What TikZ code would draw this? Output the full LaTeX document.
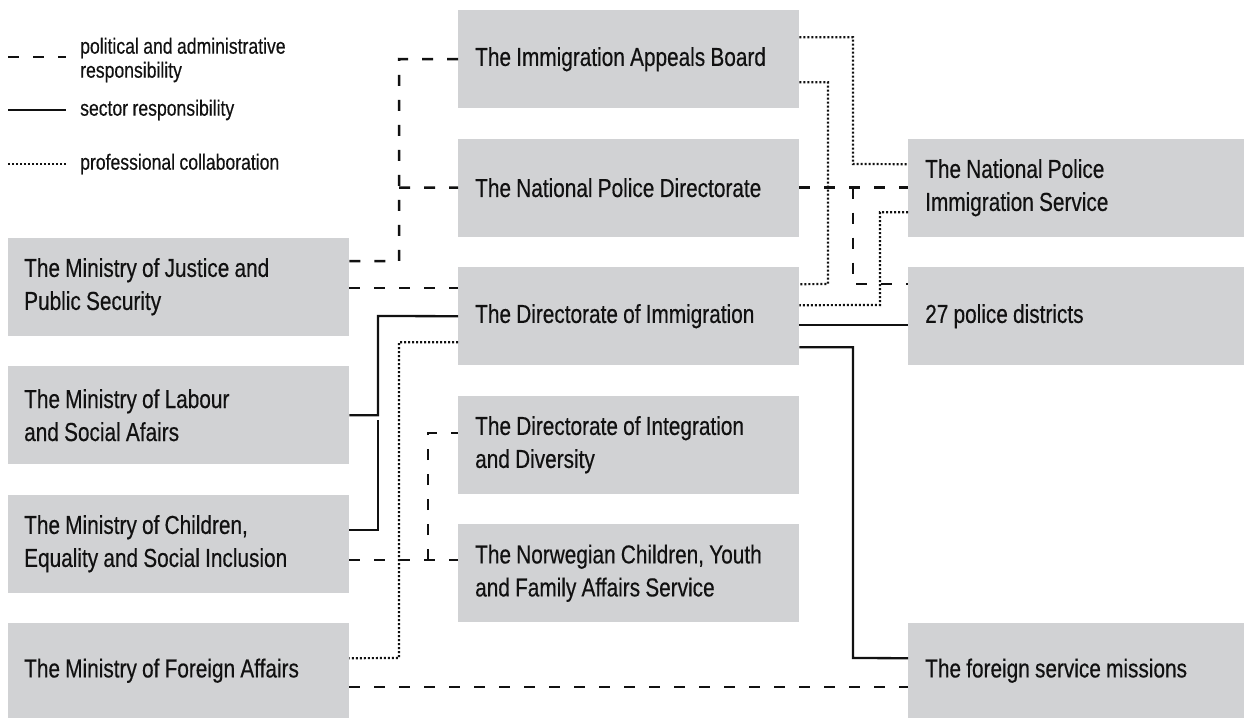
\documentclass[tikz,border=0pt]{standalone}
\usepackage{fontspec}
\setmainfont[FakeStretch=0.8, FakeBold=0.4, WordSpace=0.9]{Liberation Sans}
\usetikzlibrary{calc}
\definecolor{boxgray}{HTML}{D1D2D4}
\definecolor{ink}{HTML}{111111}
\begin{document}
\begin{tikzpicture}[x=1pt,y=-1pt,
  box/.style={fill=boxgray, draw=none, anchor=north west, align=flush left, inner xsep=17pt, inner ysep=0pt, minimum height=98pt, font=\fontsize{26}{33}\selectfont, text=ink},
  lbox/.style={box, text width=309pt, inner xsep=16pt},
  mbox/.style={box, text width=307pt},
  rbox/.style={box, text width=302pt},
  pol/.style={draw=ink, line width=2.5pt, dash pattern=on 11pt off 14pt},
  sec/.style={draw=ink, line width=2.3pt},
  col/.style={draw=ink, line width=2.2pt, dash pattern=on 2pt off 2pt},
  legtext/.style={anchor=west, align=flush left, font=\fontsize{22}{24}\selectfont, inner sep=0pt, text=ink}]
\useasboundingbox (0,0) rectangle (1244,718);

% legend
\coordinate (la1) at (8,57);  \coordinate (lb1) at (66,57);
\coordinate (la2) at (8,110); \coordinate (lb2) at (66,110);
\coordinate (la3) at (8,164); \coordinate (lb3) at (66,164);
\draw[pol] (la1) -- (lb1);
\draw[sec] (la2) -- (lb2);
\draw[col] (la3) -- (lb3);
\node[legtext] (lt1) at (80,60) {political and administrative\\responsibility};
\node[legtext] (lt2) at (80,110) {sector responsibility};
\node[legtext] (lt3) at (80,164) {professional collaboration};

% left column
\node[lbox] (just) at (8,237.5) {The Ministry of Justice and\\Public Security};
\node[lbox] (lab)  at (8,366)   {The Ministry of Labour\\and Social Afairs};
\node[lbox] (chil) at (8,494.5) {The Ministry of Children,\\Equality and Social Inclusion};
\node[lbox, minimum height=95pt] (fmin) at (8,623) {The Ministry of Foreign Affairs};

% middle column
\node[mbox] (app) at (458,10)    {The Immigration Appeals Board};
\node[mbox] (pd)  at (458,138.5) {The National Police Directorate};
\node[mbox] (imm) at (458,267)   {The Directorate of Immigration};
\node[mbox] (int) at (458,395.5) {The Directorate of Integration\\and Diversity};
\node[mbox] (nor) at (458,524)   {The Norwegian Children, Youth\\and Family Affairs Service};

% right column
\node[rbox] (npis) at (908,138.5) {The National Police\\Immigration Service};
\node[rbox] (dist) at (908,267)   {27 police districts};
\node[rbox, minimum height=95pt] (miss) at (908,623) {The foreign service missions};

% left-side connectors
\draw[pol] ($(just.east)+(0,-25.5)$) -| (399,59) -- (app.west);
\draw[pol] (399,187.5) -- (pd.west);
\draw[pol] ($(just.east)+(0,1.5)$) -- ($(imm.west)+(0,-28)$);
\draw[sec] (lab.east) -| (378,316) -- (imm.west);
\draw[sec] ($(chil.east)+(0,-13.5)$) -| (378,420);
\draw[col] ($(imm.west)+(0,26)$) -| (399,658) -- ($(fmin.east)+(0,-12.5)$);
\draw[pol] ($(chil.east)+(0,16.5)$) -- ($(nor.west)+(0,-13)$);
\draw[pol] (428,560) |- ($(int.west)+(0,-11.5)$);
\draw[pol] ($(fmin.east)+(0,16.5)$) -- ($(miss.west)+(0,16.5)$);

% right-side connectors
\draw[pol] (pd.east) -- (npis.west);
\draw[pol] (853,187.5) |- ($(dist.west)+(0,-32)$);
\draw[col] ($(app.east)+(0,-22)$) -| (853,164) -- ($(npis.west)+(0,-23.5)$);
\draw[col] ($(app.east)+(0,23)$) -| (828,284) -- ($(imm.east)+(0,-32)$);
\draw[col] ($(npis.west)+(0,24.5)$) -| (880,305) -- ($(imm.east)+(0,-11)$);
\draw[sec] ($(imm.east)+(0,9)$) -- ($(dist.west)+(0,9)$);
\draw[sec] ($(imm.east)+(0,31)$) -| (853,658) -- ($(miss.west)+(0,-12.5)$);
\end{tikzpicture}
\end{document}
